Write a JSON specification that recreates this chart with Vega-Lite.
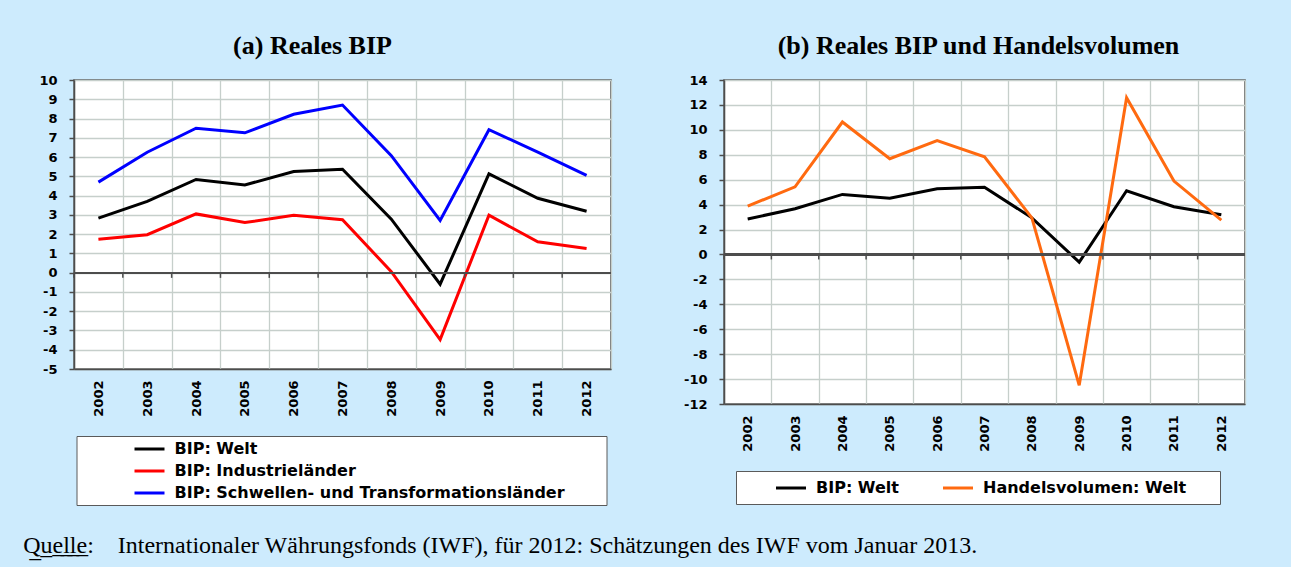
{
  "$schema": "https://vega.github.io/schema/vega-lite/v6.json",
  "background": "#cdebfd",
  "padding": {"left": 23, "top": 32, "right": 44, "bottom": 8},
  "title": {
    "text": "Q̲u̲e̲l̲l̲e̲:\u00a0\u00a0\u00a0\u00a0Internationaler Währungsfonds (IWF), für 2012: Schätzungen des IWF vom Januar 2013.",
    "orient": "bottom",
    "anchor": "start",
    "frame": "bounds",
    "font": "Liberation Serif",
    "fontSize": 24,
    "fontWeight": "normal",
    "color": "#000000",
    "dx": -15,
    "offset": 28
  },
  "datasets": {
    "a": [
      {"year": "2002", "series": "BIP: Welt", "value": 2.83},
      {"year": "2003", "series": "BIP: Welt", "value": 3.7},
      {"year": "2004", "series": "BIP: Welt", "value": 4.84},
      {"year": "2005", "series": "BIP: Welt", "value": 4.55},
      {"year": "2006", "series": "BIP: Welt", "value": 5.25},
      {"year": "2007", "series": "BIP: Welt", "value": 5.37},
      {"year": "2008", "series": "BIP: Welt", "value": 2.78},
      {"year": "2009", "series": "BIP: Welt", "value": -0.6},
      {"year": "2010", "series": "BIP: Welt", "value": 5.13},
      {"year": "2011", "series": "BIP: Welt", "value": 3.86},
      {"year": "2012", "series": "BIP: Welt", "value": 3.19},
      {"year": "2002", "series": "BIP: Industrieländer", "value": 1.74},
      {"year": "2003", "series": "BIP: Industrieländer", "value": 1.97},
      {"year": "2004", "series": "BIP: Industrieländer", "value": 3.05},
      {"year": "2005", "series": "BIP: Industrieländer", "value": 2.6},
      {"year": "2006", "series": "BIP: Industrieländer", "value": 2.98},
      {"year": "2007", "series": "BIP: Industrieländer", "value": 2.75},
      {"year": "2008", "series": "BIP: Industrieländer", "value": 0.05},
      {"year": "2009", "series": "BIP: Industrieländer", "value": -3.47},
      {"year": "2010", "series": "BIP: Industrieländer", "value": 2.98},
      {"year": "2011", "series": "BIP: Industrieländer", "value": 1.6},
      {"year": "2012", "series": "BIP: Industrieländer", "value": 1.25},
      {"year": "2002", "series": "BIP: Schwellen- und Transformationsländer", "value": 4.7},
      {"year": "2003", "series": "BIP: Schwellen- und Transformationsländer", "value": 6.25},
      {"year": "2004", "series": "BIP: Schwellen- und Transformationsländer", "value": 7.5},
      {"year": "2005", "series": "BIP: Schwellen- und Transformationsländer", "value": 7.26},
      {"year": "2006", "series": "BIP: Schwellen- und Transformationsländer", "value": 8.22},
      {"year": "2007", "series": "BIP: Schwellen- und Transformationsländer", "value": 8.7},
      {"year": "2008", "series": "BIP: Schwellen- und Transformationsländer", "value": 6.07},
      {"year": "2009", "series": "BIP: Schwellen- und Transformationsländer", "value": 2.71},
      {"year": "2010", "series": "BIP: Schwellen- und Transformationsländer", "value": 7.42},
      {"year": "2011", "series": "BIP: Schwellen- und Transformationsländer", "value": 6.26},
      {"year": "2012", "series": "BIP: Schwellen- und Transformationsländer", "value": 5.05}
    ],
    "b": [
      {"year": "2002", "series": "BIP: Welt", "value": 2.85},
      {"year": "2003", "series": "BIP: Welt", "value": 3.67},
      {"year": "2004", "series": "BIP: Welt", "value": 4.82},
      {"year": "2005", "series": "BIP: Welt", "value": 4.52},
      {"year": "2006", "series": "BIP: Welt", "value": 5.27},
      {"year": "2007", "series": "BIP: Welt", "value": 5.4},
      {"year": "2008", "series": "BIP: Welt", "value": 2.94},
      {"year": "2009", "series": "BIP: Welt", "value": -0.62},
      {"year": "2010", "series": "BIP: Welt", "value": 5.11},
      {"year": "2011", "series": "BIP: Welt", "value": 3.83},
      {"year": "2012", "series": "BIP: Welt", "value": 3.19},
      {"year": "2002", "series": "Handelsvolumen: Welt", "value": 3.88},
      {"year": "2003", "series": "Handelsvolumen: Welt", "value": 5.43},
      {"year": "2004", "series": "Handelsvolumen: Welt", "value": 10.63},
      {"year": "2005", "series": "Handelsvolumen: Welt", "value": 7.68},
      {"year": "2006", "series": "Handelsvolumen: Welt", "value": 9.13},
      {"year": "2007", "series": "Handelsvolumen: Welt", "value": 7.84},
      {"year": "2008", "series": "Handelsvolumen: Welt", "value": 2.94},
      {"year": "2009", "series": "Handelsvolumen: Welt", "value": -10.5},
      {"year": "2010", "series": "Handelsvolumen: Welt", "value": 12.58},
      {"year": "2011", "series": "Handelsvolumen: Welt", "value": 5.89},
      {"year": "2012", "series": "Handelsvolumen: Welt", "value": 2.76}
    ]
  },
  "spacing": 69,
  "resolve": {
    "scale": {"color": "independent", "y": "independent", "x": "independent"},
    "legend": {"color": "independent"}
  },
  "hconcat": [
    {
      "width": 537,
      "height": 289,
      "title": {"text": "(a) Reales BIP", "dx": -30},
      "data": {"name": "a"},
      "layer": [
        {
          "mark": {"type": "line", "strokeWidth": 3},
          "encoding": {
            "x": {
              "field": "year", "type": "ordinal", "bandPosition": 0.5,
              "scale": {"type": "band", "paddingInner": 0, "paddingOuter": 0},
              "axis": {"title": null, "labelAngle": -90, "ticks": false, "tickBand": "extent", "grid": true, "labelPadding": 11, "labelOverlap": false}
            },
            "y": {
              "field": "value", "type": "quantitative",
              "scale": {"domain": [-5, 10], "nice": false, "zero": false},
              "axis": {"title": null, "values": [-5, -4, -3, -2, -1, 0, 1, 2, 3, 4, 5, 6, 7, 8, 9, 10], "tickCount": 40, "labelExpr": "datum.value + ''", "grid": true, "labelOverlap": false, "labelBound": false}
            },
            "color": {
              "field": "series", "type": "nominal",
              "scale": {
                "domain": ["BIP: Welt", "BIP: Industrieländer", "BIP: Schwellen- und Transformationsländer"],
                "range": ["#000000", "#ff0000", "#0000ff"]
              },
              "legend": {
                "title": null, "orient": "none", "legendX": 2.5, "legendY": 356, "direction": "vertical",
                "symbolOffset": 60, "labelOffset": 16, "rowPadding": 5, "padding": 4,
                "labelExpr": "datum.label + '\u2800\u2800\u2800'"
              }
            }
          }
        },
        {
          "mark": {"type": "rule", "color": "#4d4d4d", "strokeWidth": 1.5},
          "encoding": {"y": {"datum": 0, "type": "quantitative", "axis": {"title": null, "values": [-5, -4, -3, -2, -1, 0, 1, 2, 3, 4, 5, 6, 7, 8, 9, 10], "tickCount": 40, "labelExpr": "datum.value + ''", "grid": true, "labelOverlap": false}}}
        },
        {
          "transform": [{"filter": "datum.series === 'BIP: Welt'"}],
          "mark": {"type": "rule", "color": "#4d4d4d", "strokeWidth": 1.5},
          "encoding": {
            "x": {"field": "year", "type": "ordinal", "bandPosition": 0},
            "y": {"datum": 0, "type": "quantitative"},
            "y2": {"datum": -0.27}
          }
        }
      ]
    },
    {
      "width": 521,
      "height": 324,
      "title": {"text": "(b) Reales BIP und Handelsvolumen", "dx": -6},
      "data": {"name": "b"},
      "layer": [
        {
          "mark": {"type": "line", "strokeWidth": 3},
          "encoding": {
            "x": {
              "field": "year", "type": "ordinal", "bandPosition": 0.5,
              "scale": {"type": "band", "paddingInner": 0, "paddingOuter": 0},
              "axis": {"title": null, "labelAngle": -90, "ticks": false, "tickBand": "extent", "grid": true, "labelPadding": 11, "labelOverlap": false}
            },
            "y": {
              "field": "value", "type": "quantitative",
              "scale": {"domain": [-12, 14], "nice": false, "zero": false},
              "axis": {"title": null, "values": [-12, -10, -8, -6, -4, -2, 0, 2, 4, 6, 8, 10, 12, 14], "tickCount": 40, "labelExpr": "datum.value + ''", "grid": true, "labelOverlap": false, "labelBound": false}
            },
            "color": {
              "field": "series", "type": "nominal",
              "scale": {
                "domain": ["BIP: Welt", "Handelsvolumen: Welt"],
                "range": ["#000000", "#ff6a10"]
              },
              "legend": {
                "title": null, "orient": "none", "legendX": 12, "legendY": 391, "direction": "horizontal",
                "symbolOffset": 38, "labelOffset": 16, "columnPadding": 12, "padding": 8,
                "labelExpr": "datum.value === 'Handelsvolumen: Welt' ? datum.label + '\u2800\u2800' : datum.label"
              }
            }
          }
        },
        {
          "mark": {"type": "rule", "color": "#4d4d4d", "strokeWidth": 1.5},
          "encoding": {"y": {"datum": 0, "type": "quantitative", "axis": {"title": null, "values": [-12, -10, -8, -6, -4, -2, 0, 2, 4, 6, 8, 10, 12, 14], "tickCount": 40, "labelExpr": "datum.value + ''", "grid": true, "labelOverlap": false}}}
        },
        {
          "transform": [{"filter": "datum.series === 'BIP: Welt'"}],
          "mark": {"type": "rule", "color": "#4d4d4d", "strokeWidth": 1.5},
          "encoding": {
            "x": {"field": "year", "type": "ordinal", "bandPosition": 0},
            "y": {"datum": 0, "type": "quantitative"},
            "y2": {"datum": -0.4}
          }
        }
      ]
    }
  ],
  "config": {
    "view": {"stroke": "#4d4d4d", "strokeWidth": 1.5, "fill": "#ffffff"},
    "axis": {
      "labelFont": "DejaVu Sans", "labelFontWeight": "bold", "labelFontSize": 13, "labelColor": "#000000",
      "domainColor": "#4d4d4d", "domainWidth": 1.5, "tickColor": "#4d4d4d", "tickWidth": 1.5, "tickSize": 5,
      "gridColor": "#c6cfcb", "gridWidth": 1.3, "labelPadding": 12, "labelOverlap": false
    },
    "legend": {
      "fillColor": "#ffffff", "strokeColor": "#5a5a5a",
      "labelFont": "DejaVu Sans", "labelFontWeight": "bold", "labelFontSize": 16, "labelColor": "#000000", "labelLimit": 0,
      "symbolType": "M-2,0L2,0", "symbolSize": 225, "symbolStrokeWidth": 3
    },
    "title": {"font": "Liberation Serif", "fontSize": 26, "fontWeight": "bold", "color": "#000000", "offset": 15, "anchor": "middle", "frame": "group"}
  }
}
